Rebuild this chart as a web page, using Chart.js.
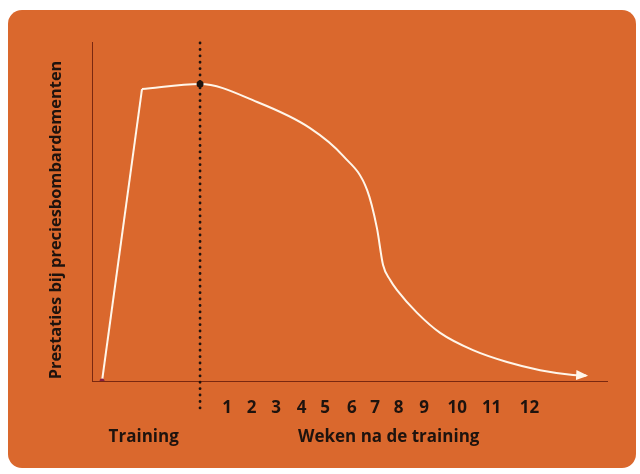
<!DOCTYPE html>
<html>
<head>
<meta charset="utf-8">
<script src="https://cdn.jsdelivr.net/npm/chart.js@4.4.1/dist/chart.umd.min.js"></script>
<style>
  html, body { margin: 0; padding: 0; background: #ffffff; }
  canvas { display: block; }
</style>
</head>
<body>
<canvas id="chart" width="640" height="474"></canvas>
<script>
// x = weeks relative to end of training (0), y = performance as % of axis height
const trainingWeeks = [-4, -2.37];
const trainingScore = [0, 86.1];

const afterWeeks = [-2.37, 0, 2.33, 4.49, 5.84, 6.82, 7.22, 7.47, 7.76, 8.04, 8.86, 9.8, 11.14, 12.53, 13.88, 15.22, 15.76];
const afterScore = [86.1, 87.6, 82.3, 74.6, 66.4, 56.3, 45.1, 34.2, 29.8, 26.8, 20.1, 14.2, 9.1, 5.6, 3.2, 1.8, 1.6];

const weekLabels = ['1', '2', '3', '4', '5', '6', '7', '8', '9', '10', '11', '12'];
const weekTickPos = [1.1, 2.1, 3.1, 4.15, 5.1, 6.2, 7.15, 8.1, 9.15, 10.5, 11.9, 13.45];

const trainingEnd = 0;
const phaseLabels = ['Training', 'Weken na de training'];
const phaseCenters = [-2.3, 7.7];
const yTitle = 'Prestaties bij preciesbombardementen';

const ORANGE = '#da682d';
const INK = '#1e130e';
const AXIS = '#7a2810';
const LINE = '#fff6ea';
const FONT = "'Open Sans', sans-serif";

function toPoints(xs, ys) {
    return xs.map((x, i) => ({ x: x, y: ys[i] }));
}

const panelPlugin = {
    id: 'panel',
    beforeDraw(chart) {
        const ctx = chart.ctx;
        ctx.save();
        ctx.fillStyle = ORANGE;
        ctx.beginPath();
        ctx.roundRect(8, 10, 628, 458, 14);
        ctx.fill();
        ctx.restore();
    }
};

// dotted line marking the end of training
const dividerPlugin = {
    id: 'divider',
    beforeDatasetsDraw(chart) {
        const ctx = chart.ctx;
        const x = chart.scales.x.getPixelForValue(trainingEnd);
        ctx.save();
        ctx.strokeStyle = INK;
        ctx.lineWidth = 2.8;
        ctx.lineCap = 'round';
        ctx.setLineDash([0.1, 6.3]);
        ctx.beginPath();
        ctx.moveTo(x, chart.chartArea.top + 1);
        ctx.lineTo(x, chart.chartArea.bottom + 32);
        ctx.stroke();
        ctx.restore();
    }
};

// arrow head at the end of the curve
const arrowPlugin = {
    id: 'arrow',
    afterDatasetsDraw(chart) {
        const pts = chart.getDatasetMeta(1).data;
        const tip = pts[pts.length - 1];
        const prev = pts[pts.length - 2];
        const ang = Math.atan2(tip.y - prev.y, tip.x - prev.x);
        const ctx = chart.ctx;
        ctx.save();
        ctx.translate(tip.x, tip.y);
        ctx.rotate(ang);
        ctx.fillStyle = LINE;
        ctx.beginPath();
        ctx.moveTo(2, 0);
        ctx.lineTo(-10, -5);
        ctx.lineTo(-10, 5);
        ctx.closePath();
        ctx.fill();
        ctx.restore();
    }
};

const labelPlugin = {
    id: 'labels',
    afterDraw(chart) {
        const ctx = chart.ctx;
        const xs = chart.scales.x;
        ctx.save();
        ctx.fillStyle = INK;
        ctx.font = 'bold 17px ' + FONT;
        ctx.textAlign = 'center';
        ctx.textBaseline = 'alphabetic';
        phaseLabels.forEach((t, i) => {
            ctx.fillText(t, xs.getPixelForValue(phaseCenters[i]), 442);
        });
        ctx.font = 'bold 16.4px ' + FONT;
        ctx.translate(61, 220);
        ctx.rotate(-Math.PI / 2);
        ctx.fillText(yTitle, 0, 0);
        ctx.restore();
    }
};

new Chart(document.getElementById('chart'), {
    type: 'line',
    data: {
        datasets: [{
            label: 'Training',
            data: toPoints(trainingWeeks, trainingScore),
            borderColor: LINE,
            borderWidth: 2,
            tension: 0,
            pointRadius: (c) => c.dataIndex === 0 ? 2.5 : 0,
            pointBackgroundColor: '#8a2040',
            pointBorderWidth: 0
        }, {
            label: 'Na de training',
            data: toPoints(afterWeeks, afterScore),
            borderColor: LINE,
            borderWidth: 2,
            cubicInterpolationMode: 'monotone',
            pointRadius: (c) => c.raw && c.raw.x === trainingEnd ? 3.5 : 0,
            pointBackgroundColor: INK,
            pointBorderWidth: 0
        }]
    },
    options: {
        responsive: false,
        animation: false,
        devicePixelRatio: 1,
        layout: { padding: { left: 92, right: 33, top: 42, bottom: 38.6 } },
        plugins: {
            legend: { display: false },
            tooltip: { enabled: false }
        },
        scales: {
            x: {
                type: 'linear',
                min: -4.41,
                max: 16.61,
                grid: { display: false, drawTicks: false },
                border: { display: true, color: AXIS, width: 1 },
                afterBuildTicks: (scale) => {
                    scale.ticks = weekTickPos.map((v) => ({ value: v }));
                },
                ticks: {
                    autoSkip: false,
                    maxRotation: 0,
                    padding: 17,
                    color: INK,
                    font: { family: FONT, size: 17, weight: 'bold' },
                    callback: (v, i) => weekLabels[i]
                }
            },
            y: {
                min: 0,
                max: 100,
                grid: { display: false, drawTicks: false },
                border: { display: true, color: AXIS, width: 1 },
                ticks: { display: false }
            }
        }
    },
    plugins: [panelPlugin, dividerPlugin, arrowPlugin, labelPlugin]
});
</script>
</body>
</html>
